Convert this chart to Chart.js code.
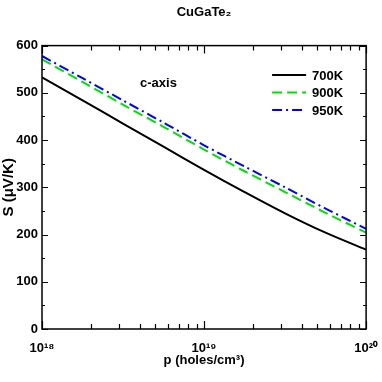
<!DOCTYPE html>
<html>
<head>
<meta charset="utf-8">
<script src="https://cdn.jsdelivr.net/npm/chart.js@4"></script>
<style>
html,body{margin:0;padding:0;background:#fff;}
canvas{display:block;}
</style>
</head>
<body>
<canvas id="c" width="382" height="382"></canvas>
<script>
// Data
const pValues = [1e18, 1.78e18, 3.16e18, 5.62e18, 1e19, 1.78e19, 3.16e19, 5.62e19, 1e20];
const s700 = [533, 484, 435, 386, 337, 290, 245, 204, 168];
const s900 = [571, 523, 475, 428, 380, 334, 290, 246, 204];
const s950 = [578, 531, 484, 437, 389, 344, 300, 255, 212];
const seriesLabels = ['700K', '900K', '950K'];
const xTickValues = [1e18, 1e19, 1e20];
const xTickLabels = ['10¹⁸', '10¹⁹', '10²⁰'];
const yTickValues = [0, 100, 200, 300, 400, 500, 600];
const titleText = 'CuGaTe₂';
const xTitle = 'p (holes/cm³)';
const yTitle = 'S (μV/K)';
const annotationText = 'c-axis';

const FONT = '"Liberation Sans", Arial, Helvetica, sans-serif';

function pts(ys) { return pValues.map((x, i) => ({x: x, y: ys[i]})); }

const framePlugin = {
  id: 'frame',
  afterDatasetsDraw(chart) {
    const ctx = chart.ctx;
    const a = chart.chartArea;
    const xs = chart.scales.x, ys = chart.scales.y;
    ctx.save();
    ctx.strokeStyle = '#000';
    ctx.lineWidth = 1.5;
    ctx.strokeRect(a.left, a.top, a.right - a.left, a.bottom - a.top);
    ctx.lineWidth = 1.2;
    ctx.beginPath();
    // y ticks (major 100, minor 50), inward on left and right
    for (let v = 0; v <= 600; v += 50) {
      const y = Math.round(ys.getPixelForValue(v)) + 0.5;
      const len = (v % 100 === 0) ? 6 : 3;
      ctx.moveTo(a.left, y); ctx.lineTo(a.left + len, y);
      ctx.moveTo(a.right, y); ctx.lineTo(a.right - len, y);
    }
    // x ticks (log decades major, 2..9 minor), inward on bottom and top
    for (let k = 18; k <= 20; k++) {
      for (let m = 1; m <= 9; m++) {
        const v = m * Math.pow(10, k);
        if (v > 1e20 * 1.0001) break;
        const x = Math.round(xs.getPixelForValue(v)) + 0.5;
        const len = (m === 1) ? 8 : 5;
        ctx.moveTo(x, a.bottom); ctx.lineTo(x, a.bottom - len);
        ctx.moveTo(x, a.top); ctx.lineTo(x, a.top + len);
      }
    }
    ctx.stroke();

    // annotation
    ctx.fillStyle = '#000';
    ctx.font = 'bold 13px ' + FONT;
    ctx.textAlign = 'left';
    ctx.textBaseline = 'middle';
    ctx.fillText(annotationText, a.left + 98, a.top + 38);

    // legend inside plot
    chart.data.datasets.forEach((ds, i) => {
      const y = a.top + 29.5 + i * 17.5;
      const x0 = a.right - 94, x1 = a.right - 60;
      ctx.save();
      ctx.strokeStyle = ds.borderColor;
      ctx.lineWidth = ds.borderWidth;
      ctx.setLineDash(ds.borderDash || []);
      ctx.beginPath();
      ctx.moveTo(x0, y); ctx.lineTo(x1, y);
      ctx.stroke();
      ctx.restore();
      ctx.fillStyle = '#000';
      ctx.font = 'bold 13px ' + FONT;
      ctx.textBaseline = 'middle';
      ctx.fillText(ds.label, a.right - 54, y + 1);
    });
    ctx.restore();
  }
};

new Chart(document.getElementById('c'), {
  type: 'line',
  data: {
    datasets: [
      {label: seriesLabels[0], data: pts(s700), borderColor: '#000000', borderWidth: 2, borderDash: [], pointRadius: 0, tension: 0.3},
      {label: seriesLabels[1], data: pts(s900), borderColor: '#00e000', borderWidth: 2, borderDash: [10, 5], pointRadius: 0, tension: 0.3},
      {label: seriesLabels[2], data: pts(s950), borderColor: '#0000ff', borderWidth: 2, borderDash: [10, 4, 2, 4], pointRadius: 0, tension: 0.3}
    ]
  },
  options: {
    responsive: false,
    animation: false,
    devicePixelRatio: 1,
    layout: {padding: {left: 0, right: 15, top: 0, bottom: 0}},
    plugins: {
      legend: {display: false},
      tooltip: {enabled: false},
      title: {
        display: true,
        fullSize: false,
        text: titleText,
        color: '#000',
        font: {family: FONT, size: 13, weight: 'bold'},
        padding: {top: 5, bottom: 25}
      }
    },
    scales: {
      x: {
        type: 'logarithmic',
        min: 1e18, max: 1e20,
        afterBuildTicks: (s) => { s.ticks = xTickValues.map(v => ({value: v})); },
        afterFit: (s) => { s.height = 53; },
        grid: {display: false},
        border: {display: false},
        ticks: {
          color: '#000',
          font: {family: FONT, size: 13, weight: 'bold'},
          padding: 4,
          maxRotation: 0,
          autoSkip: false,
          callback: (v) => { const i = xTickValues.indexOf(v); return i >= 0 ? xTickLabels[i] : ''; }
        },
        title: {
          display: true, text: xTitle, color: '#000',
          font: {family: FONT, size: 13, weight: 'bold'},
          padding: {top: 0, bottom: 14}
        }
      },
      y: {
        min: 0, max: 600,
        afterBuildTicks: (s) => { s.ticks = yTickValues.map(v => ({value: v})); },
        afterFit: (s) => { s.width = 42; },
        grid: {display: false, tickLength: 0},
        border: {display: false},
        ticks: {
          color: '#000',
          font: {family: FONT, size: 13, weight: 'bold'},
          padding: 4
        },
        title: {
          display: true, text: yTitle, color: '#000',
          font: {family: FONT, size: 15, weight: 'bold'},
          padding: {top: 0, bottom: 0}
        }
      }
    }
  },
  plugins: [framePlugin]
});
</script>
</body>
</html>
